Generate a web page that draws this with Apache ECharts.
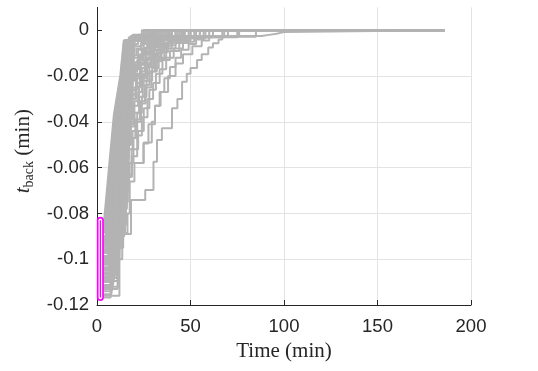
<!DOCTYPE html>
<html><head><meta charset="utf-8">
<script src="https://cdn.jsdelivr.net/npm/echarts@6/dist/echarts.min.js"></script>
<style>html,body{margin:0;padding:0;background:#fff}#c{width:538px;height:371px}</style>
</head><body><div id="c"></div>
<script>
const xTicks = [0, 50, 100, 150, 200];
const yTicks = [-0.12, -0.1, -0.08, -0.06, -0.04, -0.02, 0];
const endTime = 186;
const markerTime = 1.8;

// dense bundle of trajectories (t in min, t_back in min)
const bulkPaths = [
  [[0,-0.0830],[3.8,-0.0830],[9.0,-0.0370],[12.5,-0.0195],[14.3,-0.0045],[18,-0.0045],[18,-0.0030],[24,-0.0030],[24,0]],
  [[0,-0.0845],[4.0,-0.0845],[9.3,-0.0390],[12.7,-0.0200],[14.5,-0.0045],[20,-0.0045],[20,-0.0025],[26,-0.0025],[26,0]],
  [[0,-0.0858],[4.2,-0.0858],[9.5,-0.0420],[12.9,-0.0220],[14.7,-0.0045],[17,-0.0045],[17,-0.0030],[28,-0.0030],[28,0]],
  [[0,-0.0871],[4.3,-0.0871],[9.8,-0.0440],[13.1,-0.0210],[14.8,-0.0045],[22,-0.0045],[22,-0.0030],[27,-0.0030],[27,0]],
  [[0,-0.0884],[4.5,-0.0884],[10.0,-0.0470],[13.3,-0.0230],[15.0,-0.0045],[19,-0.0045],[19,-0.0020],[25,-0.0020],[25,0]],
  [[0,-0.0897],[4.7,-0.0897],[10.3,-0.0490],[13.5,-0.0220],[15.1,-0.0045],[24,-0.0045],[24,-0.0028],[31,-0.0028],[31,0]],
  [[0,-0.0910],[4.9,-0.0910],[10.5,-0.0520],[13.7,-0.0240],[15.3,-0.0045],[21,-0.0045],[21,-0.0022],[29,-0.0022],[29,0]],
  [[0,-0.0922],[5.1,-0.0922],[10.8,-0.0540],[13.9,-0.0250],[15.4,-0.0045],[26,-0.0045],[26,-0.0030],[35,-0.0030],[35,0]],
  [[0,-0.0935],[5.3,-0.0935],[11.0,-0.0570],[14.1,-0.0240],[15.6,-0.0045],[18,-0.0045],[18,-0.0025],[26,-0.0025],[26,0]],
  [[0,-0.0948],[5.5,-0.0948],[11.2,-0.0590],[14.3,-0.0260],[15.7,-0.0045],[23,-0.0045],[23,-0.0028],[33,-0.0028],[33,0]],
  [[0,-0.0960],[5.6,-0.0960],[11.4,-0.0620],[14.5,-0.0270],[15.9,-0.0045],[20,-0.0045],[20,-0.0030],[30,-0.0030],[30,0]],
  [[0,-0.0973],[5.8,-0.0973],[11.6,-0.0640],[14.7,-0.0260],[16.0,-0.0045],[28,-0.0045],[28,-0.0025],[40,-0.0025],[40,0]],
  [[0,-0.0986],[5.9,-0.0986],[11.8,-0.0670],[14.9,-0.0280],[16.2,-0.0045],[22,-0.0045],[22,-0.0020],[27,-0.0020],[27,0]],
  [[0,-0.0999],[6.0,-0.0999],[12.0,-0.0690],[15.6,-0.0290],[17.0,-0.0045],[25,-0.0045],[25,-0.0030],[37,-0.0030],[37,0]],
  [[0,-0.1011],[6.2,-0.1011],[12.2,-0.0710],[15.9,-0.0280],[17.3,-0.0045],[21,-0.0045],[21,-0.0022],[28,-0.0022],[28,0]],
  [[0,-0.1024],[6.3,-0.1024],[12.4,-0.0730],[16.2,-0.0300],[17.6,-0.0045],[30,-0.0045],[30,-0.0028],[45,-0.0028],[45,0]],
  [[0,-0.1037],[6.4,-0.1037],[12.6,-0.0750],[16.4,-0.0310],[17.9,-0.0045],[21,-0.0045],[21,-0.0025],[32,-0.0025],[32,0]],
  [[0,-0.1050],[6.5,-0.1050],[12.8,-0.0770],[16.7,-0.0300],[18.2,-0.0045],[27,-0.0045],[27,-0.0030],[42,-0.0030],[42,0]],
  [[0,-0.1062],[6.6,-0.1062],[13.0,-0.0790],[16.9,-0.0320],[18.4,-0.0045],[24,-0.0045],[24,-0.0020],[30,-0.0020],[30,0]],
  [[0,-0.1075],[6.7,-0.1075],[13.1,-0.0800],[17.1,-0.0330],[18.7,-0.0045],[33,-0.0045],[33,-0.0028],[50,-0.0028],[50,0]],
  [[0,-0.1088],[6.8,-0.1088],[13.3,-0.0820],[17.3,-0.0320],[18.9,-0.0045],[22,-0.0045],[22,-0.0025],[29,-0.0025],[29,0]],
  [[0,-0.1100],[6.9,-0.1100],[13.4,-0.0830],[17.5,-0.0340],[19.1,-0.0045],[26,-0.0045],[26,-0.0030],[38,-0.0030],[38,0]],
  [[0,-0.1113],[7.0,-0.1113],[13.5,-0.0820],[17.7,-0.0350],[19.3,-0.0045],[23,-0.0045],[23,-0.0022],[34,-0.0022],[34,0]],
  [[0,-0.1126],[7.0,-0.1126],[13.6,-0.0840],[17.9,-0.0340],[19.5,-0.0045],[35,-0.0045],[35,-0.0028],[55,-0.0028],[55,0]],
  [[0,-0.1140],[7.1,-0.1140],[13.7,-0.0850],[18.0,-0.0360],[19.7,-0.0045],[23,-0.0045],[23,-0.0025],[31,-0.0025],[31,0]],
  [[0,-0.1153],[7.2,-0.1153],[13.8,-0.0860],[18.2,-0.0370],[19.9,-0.0045],[29,-0.0045],[29,-0.0030],[47,-0.0030],[47,0]],
  [[0,-0.1167],[7.3,-0.1167],[13.9,-0.0870],[18.4,-0.0360],[20.0,-0.0045],[25,-0.0045],[25,-0.0025],[36,-0.0025],[36,0]]
];

// slower, stair-like trajectories (drawn as stairs)
const stairPaths = [
  [[0,-0.0990],[5.5,-0.0990],[9,-0.0950],[12.5,-0.0890],[18.2,-0.0741],[25.8,-0.0698],[30.2,-0.0574],[32.1,-0.0479],[34.7,-0.0428],[40.1,-0.0341],[43,-0.0300],[45.5,-0.0225],[48,-0.0190],[50,-0.0165],[53.5,-0.0130],[56,-0.0105],[59.5,-0.0075],[62,-0.0057],[65,-0.0040],[67,-0.0028],[76,0]],
  [[0,-0.0950],[5,-0.0950],[8,-0.0920],[12,-0.0885],[16.3,-0.0800],[17.5,-0.0660],[20,-0.0580],[24.8,-0.0494],[27.5,-0.0410],[31,-0.0330],[34,-0.0270],[38,-0.0200],[42,-0.0145],[46,-0.0105],[51,-0.0070],[56,-0.0045],[60,-0.0030],[68,0]],
  [[0,-0.0920],[4.5,-0.0920],[8,-0.0880],[11,-0.0850],[14.8,-0.0750],[16.5,-0.0640],[18.6,-0.0550],[21.5,-0.0460],[24,-0.0380],[27,-0.0300],[30,-0.0230],[33.5,-0.0170],[37,-0.0120],[41,-0.0080],[46,-0.0050],[52,-0.0030],[62,0]],
  [[0,-0.1045],[6,-0.1045],[10,-0.1000],[12,-0.0900],[14.5,-0.0780],[16,-0.0630],[18.5,-0.0520],[22,-0.0440],[25,-0.0340],[28,-0.0260],[31.5,-0.0190],[35,-0.0130],[39,-0.0090],[44,-0.0055],[49,-0.0035],[58,0]],
  [[0,-0.1095],[7,-0.1095],[11,-0.1000],[13.5,-0.0850],[15.5,-0.0660],[17.2,-0.0580],[19.5,-0.0470],[21,-0.0400],[23.5,-0.0320],[26,-0.0250],[29,-0.0180],[32,-0.0125],[36,-0.0080],[40,-0.0050],[45,-0.0030],[55,0]],
  [[0,-0.0880],[4,-0.0880],[7,-0.0700],[10,-0.0500],[14,-0.0400],[16,-0.0350],[18,-0.0300],[20.5,-0.0250],[23,-0.0200],[26,-0.0150],[29,-0.0110],[33,-0.0070],[38,-0.0045],[50,0]],
  [[0,-0.1130],[7,-0.1130],[11,-0.0950],[13,-0.0800],[15,-0.0700],[16.5,-0.0500],[18,-0.0420],[20,-0.0360],[22.5,-0.0290],[24.5,-0.0220],[27,-0.0160],[30,-0.0115],[34,-0.0075],[38,-0.0048],[44,-0.0030],[52,0]],
  [[0,-0.1005],[5.5,-0.1005],[9,-0.0800],[12,-0.0600],[14.5,-0.0450],[16.5,-0.0380],[18.5,-0.0280],[21,-0.0200],[23.5,-0.0150],[26.5,-0.0105],[30,-0.0070],[34,-0.0045],[46,0]],
  [[0,-0.0862],[3.5,-0.0862],[7,-0.0600],[10,-0.0400],[13,-0.0300],[15.5,-0.0260],[17.5,-0.0210],[20,-0.0170],[22.5,-0.0130],[25,-0.0095],[28,-0.0065],[32,-0.0040],[42,0]],
  [[0,-0.1080],[6.5,-0.1080],[11,-0.0900],[13.5,-0.0700],[15,-0.0550],[16.2,-0.0450],[17.5,-0.0350],[19,-0.0260],[21,-0.0190],[23.5,-0.0140],[26,-0.0100],[29,-0.0065],[33,-0.0040],[40,0]],
  [[0,-0.0968],[5,-0.0968],[9,-0.0750],[12,-0.0500],[14,-0.0350],[16,-0.0270],[18,-0.0200],[20,-0.0155],[22,-0.0110],[25,-0.0078],[27.5,-0.0050],[32,-0.0030],[38,0]],
  [[0,-0.1160],[7.2,-0.1160],[12,-0.0900],[14.5,-0.0600],[16,-0.0400],[17,-0.0300],[18.5,-0.0220],[20,-0.0160],[22,-0.0120],[24,-0.0080],[27,-0.0050],[30,-0.0030],[36,0]],
  [[0,-0.0903],[4.5,-0.0903],[8,-0.0700],[11,-0.0450],[13.5,-0.0250],[15.5,-0.0200],[17,-0.0150],[19,-0.0110],[21,-0.0080],[23.5,-0.0055],[26,-0.0035],[34,0]],
  [[0,-0.1020],[6,-0.1020],[10,-0.0800],[13,-0.0500],[15,-0.0200],[17,-0.0080],[20,-0.0035],[30,-0.0025],[88,-0.0020],[92,-0.0015],[96,-0.0008],[100,0]],
  [[0,-0.0940],[5,-0.0940],[9,-0.0700],[12,-0.0400],[14.5,-0.0150],[17,-0.0060],[22,-0.0030],[75,0]],
  [[0,-0.1068],[6.5,-0.1068],[11,-0.0850],[13.5,-0.0500],[15.5,-0.0200],[18,-0.0070],[24,-0.0028],[67,0]],
  [[0,-0.0915],[4.8,-0.0915],[9,-0.0600],[12,-0.0400],[14,-0.0280],[17,-0.0240],[19,-0.0180],[21.5,-0.0130],[24,-0.0090],[27,-0.0060],[31,-0.0035],[39,0]],
  [[0,-0.1015],[6,-0.1015],[10,-0.0800],[13,-0.0600],[15,-0.0480],[17,-0.0410],[19.5,-0.0330],[22,-0.0270],[24,-0.0210],[26.5,-0.0160],[29,-0.0120],[32,-0.0085],[36,-0.0055],[41,-0.0035],[49,0]],
  [[0,-0.1082],[6.6,-0.1082],[11,-0.0920],[13.5,-0.0750],[15.5,-0.0620],[17,-0.0520],[19,-0.0440],[21.5,-0.0360],[24,-0.0290],[26.5,-0.0220],[29.5,-0.0165],[33,-0.0120],[37,-0.0080],[42,-0.0055],[48,-0.0035],[57,0]],
  [[0,-0.0876],[4.2,-0.0876],[8,-0.0650],[11,-0.0450],[13.5,-0.0300],[15.5,-0.0200],[17.5,-0.0160],[19.5,-0.0120],[22,-0.0085],[25,-0.0060],[28,-0.0040],[33,0]],
  [[0,-0.0957],[5.4,-0.0957],[9.5,-0.0700],[12.5,-0.0500],[14.5,-0.0360],[16.5,-0.0310],[18.5,-0.0250],[21,-0.0190],[23,-0.0145],[26,-0.0105],[29,-0.0075],[32.5,-0.0050],[36,-0.0032],[44,0]],
  [[0,-0.1120],[7,-0.1120],[11.5,-0.0950],[14,-0.0750],[16,-0.0500],[17.5,-0.0390],[19,-0.0300],[21,-0.0230],[23,-0.0180],[25.5,-0.0130],[28,-0.0090],[31,-0.0060],[35,-0.0040],[43,0]],
  [[0,-0.0992],[5.8,-0.0992],[10,-0.0750],[12.5,-0.0550],[14.5,-0.0420],[17,-0.0340],[19,-0.0260],[21.5,-0.0210],[24,-0.0165],[27,-0.0120],[30.5,-0.0085],[34,-0.0060],[38,-0.0040],[46,0]],
  [[0,-0.1058],[6.5,-0.1058],[11,-0.0850],[13.5,-0.0650],[15.5,-0.0500],[18,-0.0400],[20,-0.0310],[22.5,-0.0240],[25,-0.0190],[28,-0.0140],[31,-0.0100],[35,-0.0068],[40,-0.0045],[45,-0.0030],[53,0]],
  [[0,-0.0928],[5,-0.0928],[9,-0.0680],[12,-0.0470],[14,-0.0320],[16,-0.0250],[18,-0.0190],[20.5,-0.0140],[23,-0.0105],[26,-0.0075],[29,-0.0050],[33,-0.0030],[60,0]],
  [[0,-0.1035],[6.2,-0.1035],[10.5,-0.0850],[13,-0.0680],[15,-0.0560],[17,-0.0470],[20.5,-0.0390],[23,-0.0310],[25.5,-0.0240],[28,-0.0180],[31,-0.0135],[34.5,-0.0095],[38,-0.0065],[42,-0.0042],[47,-0.0028],[70,0]],
  [[0,-0.1040],[6,-0.1040],[10.5,-0.0950],[12.5,-0.0890],[15,-0.0640],[18.6,-0.0580],[25,-0.0490],[29.3,-0.0400],[31,-0.0330],[33.5,-0.0270],[36,-0.0210],[39,-0.0160],[42,-0.0120],[45,-0.0085],[49,-0.0060],[53,-0.0040],[57,-0.0028],[85,0]]
];

const GRAY = '#b3b3b3';
const AXIS = '#262626';
const MAGENTA = '#ff00ff';
const series = [];
bulkPaths.forEach(p => series.push({
  type: 'line', data: p.concat([[endTime, 0]]), symbol: 'none', silent: true, z: 2,
  lineStyle: { color: GRAY, width: 2 }
}));
stairPaths.forEach(p => series.push({
  type: 'line', step: 'end', data: p.concat([[endTime, 0]]), symbol: 'none', silent: true, z: 2,
  lineStyle: { color: GRAY, width: 2 }
}));
const startValues = bulkPaths.map(p => p[0][1]).concat(stairPaths.map(p => p[0][1]));
const startRange = [[markerTime, Math.max(...startValues)], [markerTime, Math.min(...startValues)]];
// markers at the start values, drawn as a dense stack
series.push({ type: 'line', data: startRange, symbol: 'none', silent: true, z: 5,
  lineStyle: { color: MAGENTA, width: 7, cap: 'round' } });
series.push({ type: 'line', data: startRange, symbol: 'none', silent: true, z: 6,
  lineStyle: { color: '#ffffff', width: 3.6, cap: 'round' } });
series.push({ type: 'line', data: startRange, symbol: 'none', silent: true, z: 7,
  lineStyle: { color: MAGENTA, width: 1.3 } });

const chart = echarts.init(document.getElementById('c'), null, { renderer: 'canvas' });
chart.setOption({
  animation: false,
  backgroundColor: '#ffffff',
  grid: { left: 97, right: 67, top: 7.4, bottom: 66, containLabel: false },
  xAxis: {
    type: 'value', min: xTicks[0], max: xTicks[xTicks.length - 1], interval: 50,
    name: 'Time (min)', nameLocation: 'middle', nameGap: 31,
    nameTextStyle: { fontFamily: 'Liberation Serif', fontSize: 21, color: AXIS },
    axisLine: { show: true, onZero: false, lineStyle: { color: AXIS, width: 1 } },
    axisTick: { show: true, inside: true, length: 5, lineStyle: { color: AXIS } },
    axisLabel: { fontFamily: 'Liberation Sans', fontSize: 18.5, color: AXIS, margin: 12 },
    splitLine: { show: true, lineStyle: { color: '#e3e3e3', width: 1 } }
  },
  yAxis: {
    type: 'value', min: -0.12, max: 0.01, interval: 0.02,
    name: '{t|t}{s|back}{m| (min)}', nameLocation: 'middle', nameGap: 52, nameRotate: 90,
    nameTextStyle: {
      padding: [0, 0, 0, 10],
      rich: {
        t: { fontFamily: 'Liberation Serif', fontStyle: 'italic', fontSize: 21, color: AXIS, lineHeight: 24 },
        s: { fontFamily: 'Liberation Serif', fontSize: 14, color: AXIS, verticalAlign: 'bottom', lineHeight: 24 },
        m: { fontFamily: 'Liberation Serif', fontSize: 21, color: AXIS, lineHeight: 24 }
      }
    },
    axisLine: { show: true, onZero: false, lineStyle: { color: AXIS, width: 1 } },
    axisTick: { show: true, inside: true, length: 5, lineStyle: { color: AXIS }, customValues: yTicks },
    axisLabel: {
      fontFamily: 'Liberation Sans', fontSize: 18.5, color: AXIS, margin: 8, customValues: yTicks,
      formatter: v => (v > 0.001 ? '' : String(Math.round(v * 100) / 100))
    },
    splitLine: { show: true, showMaxLine: false, lineStyle: { color: '#e3e3e3', width: 1 } }
  },
  series: series
});
</script></body></html>
